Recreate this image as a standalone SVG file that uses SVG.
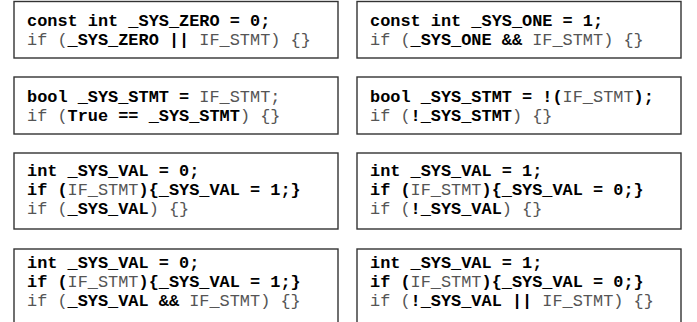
<svg xmlns="http://www.w3.org/2000/svg" width="697" height="322" viewBox="0 0 697 322">
<style>
.box{fill:#fff;stroke:#333;stroke-width:1.4}
text{font-family:"Liberation Mono","Courier New",monospace;font-size:16.9px;white-space:pre}
.b{font-weight:bold;fill:#000}
.g{font-weight:normal;fill:#555}
</style>
<rect width="697" height="322" fill="#fff"/>
<g id="n1">
<rect class="box" x="14" y="1.5" width="324" height="56.5"/>
<text x="27" y="26" xml:space="preserve"><tspan class="b">const int _SYS_ZERO = 0;</tspan></text>
<text x="27" y="45" xml:space="preserve"><tspan class="g">if (</tspan><tspan class="b">_SYS_ZERO ||</tspan><tspan class="g"> IF_STMT) {}</tspan></text>
</g>
<g id="n2">
<rect class="box" x="357" y="1.5" width="324" height="56.5"/>
<text x="370" y="26" xml:space="preserve"><tspan class="b">const int _SYS_ONE = 1;</tspan></text>
<text x="370" y="45" xml:space="preserve"><tspan class="g">if (</tspan><tspan class="b">_SYS_ONE &amp;&amp;</tspan><tspan class="g"> IF_STMT) {}</tspan></text>
</g>
<g id="n3">
<rect class="box" x="14" y="77" width="324" height="57"/>
<text x="27" y="101.5" xml:space="preserve"><tspan class="b">bool _SYS_STMT =</tspan><tspan class="g"> IF_STMT;</tspan></text>
<text x="27" y="120.5" xml:space="preserve"><tspan class="g">if (</tspan><tspan class="b">True == _SYS_STMT</tspan><tspan class="g">) {}</tspan></text>
</g>
<g id="n4">
<rect class="box" x="357" y="77" width="324" height="57"/>
<text x="370" y="101.5" xml:space="preserve"><tspan class="b">bool _SYS_STMT = !(</tspan><tspan class="g">IF_STMT</tspan><tspan class="b">);</tspan></text>
<text x="370" y="120.5" xml:space="preserve"><tspan class="g">if (</tspan><tspan class="b">!_SYS_STMT</tspan><tspan class="g">) {}</tspan></text>
</g>
<g id="n5">
<rect class="box" x="14" y="153" width="324" height="76"/>
<text x="27" y="176" xml:space="preserve"><tspan class="b">int _SYS_VAL = 0;</tspan></text>
<text x="27" y="195" xml:space="preserve"><tspan class="b">if (</tspan><tspan class="g">IF_STMT</tspan><tspan class="b">){_SYS_VAL = 1;}</tspan></text>
<text x="27" y="214" xml:space="preserve"><tspan class="g">if (</tspan><tspan class="b">_SYS_VAL</tspan><tspan class="g">) {}</tspan></text>
</g>
<g id="n6">
<rect class="box" x="357" y="153" width="324" height="76"/>
<text x="370" y="176" xml:space="preserve"><tspan class="b">int _SYS_VAL = 1;</tspan></text>
<text x="370" y="195" xml:space="preserve"><tspan class="b">if (</tspan><tspan class="g">IF_STMT</tspan><tspan class="b">){_SYS_VAL = 0;}</tspan></text>
<text x="370" y="214" xml:space="preserve"><tspan class="g">if (</tspan><tspan class="b">!_SYS_VAL</tspan><tspan class="g">) {}</tspan></text>
</g>
<g id="n7">
<rect class="box" x="14" y="249" width="324" height="80"/>
<text x="27" y="268" xml:space="preserve"><tspan class="b">int _SYS_VAL = 0;</tspan></text>
<text x="27" y="287" xml:space="preserve"><tspan class="b">if (</tspan><tspan class="g">IF_STMT</tspan><tspan class="b">){_SYS_VAL = 1;}</tspan></text>
<text x="27" y="306" xml:space="preserve"><tspan class="g">if (</tspan><tspan class="b">_SYS_VAL &amp;&amp;</tspan><tspan class="g"> IF_STMT) {}</tspan></text>
</g>
<g id="n8">
<rect class="box" x="357" y="249" width="324" height="80"/>
<text x="370" y="268" xml:space="preserve"><tspan class="b">int _SYS_VAL = 1;</tspan></text>
<text x="370" y="287" xml:space="preserve"><tspan class="b">if (</tspan><tspan class="g">IF_STMT</tspan><tspan class="b">){_SYS_VAL = 0;}</tspan></text>
<text x="370" y="306" xml:space="preserve"><tspan class="g">if (</tspan><tspan class="b">!_SYS_VAL ||</tspan><tspan class="g"> IF_STMT) {}</tspan></text>
</g>
<g id="connectors"></g>
</svg>
